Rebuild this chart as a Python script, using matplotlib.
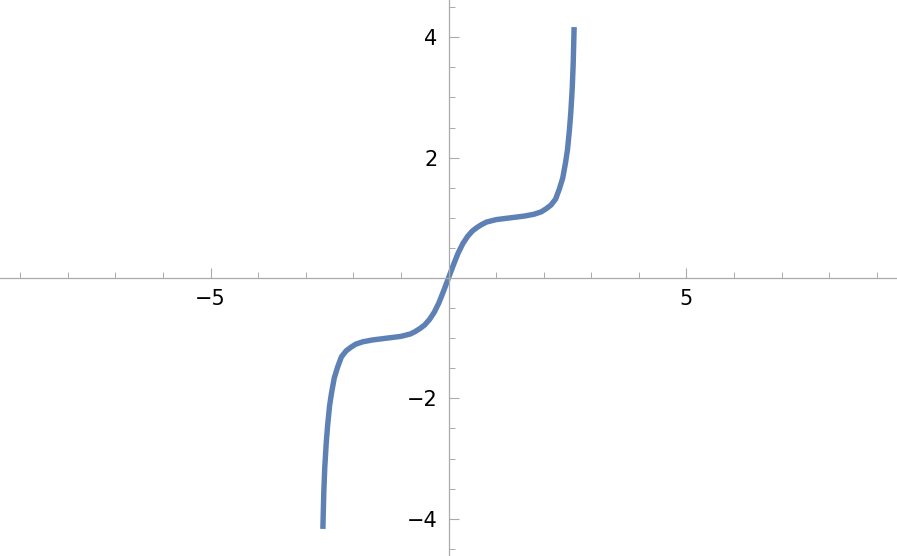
import numpy as np
import matplotlib
matplotlib.use("Agg")
import matplotlib.pyplot as plt
from matplotlib.ticker import FixedLocator, FixedFormatter

# Curve values (left branch, then right branch)
x_neg = [-2.64, -2.62, -2.60, -2.57, -2.54, -2.50, -2.46, -2.40, -2.33, -2.25, -2.15,
         -2.05, -1.95, -1.80, -1.60, -1.40, -1.20, -1.00, -0.90, -0.80, -0.70, -0.60,
         -0.50, -0.40, -0.30, -0.20, -0.10]
y_neg = [-4.17, -3.55, -3.15, -2.75, -2.45, -2.13, -1.92, -1.66, -1.48, -1.31, -1.21,
         -1.15, -1.10, -1.06, -1.03, -1.01, -0.99, -0.97, -0.95, -0.93, -0.89, -0.84,
         -0.78, -0.69, -0.57, -0.41, -0.21]
x_pos = [0.0, 0.10, 0.20, 0.30, 0.40, 0.50, 0.60, 0.70, 0.80, 0.90, 1.00, 1.20, 1.40,
         1.60, 1.80, 1.95, 2.05, 2.15, 2.25, 2.33, 2.40, 2.46, 2.50, 2.54, 2.57, 2.60,
         2.62, 2.64]
y_pos = [0.0, 0.21, 0.41, 0.57, 0.69, 0.78, 0.84, 0.89, 0.93, 0.95, 0.97, 0.99, 1.01,
         1.03, 1.06, 1.10, 1.15, 1.21, 1.31, 1.48, 1.66, 1.92, 2.13, 2.45, 2.75, 3.15,
         3.55, 4.17]

x_major = [-5, 5]
x_major_labels = ["\u22125", "5"]
x_minor = [-9, -8, -7, -6, -4, -3, -2, -1, 1, 2, 3, 4, 6, 7, 8, 9]
y_major = [-4, -2, 2, 4]
y_major_labels = ["\u22124", "\u22122", "2", "4"]
y_minor = [-4.5, -3.5, -3, -2.5, -1.5, -1, -0.5, 0.5, 1, 1.5, 2.5, 3, 3.5, 4.5]

xs = x_neg + x_pos
ys = y_neg + y_pos

fig = plt.figure(figsize=(8.97, 5.56), dpi=100)
ax = fig.add_axes([0, 0, 1, 1])
ax.set_xlim(-3 * np.pi, 3 * np.pi)
ax.set_ylim(-4.62, 4.62)

ax.plot(xs, ys, color="#5E81B5", lw=3.9, solid_capstyle="butt", solid_joinstyle="round")

axis_col = "#aaaaaa"
for s in ["top", "right"]:
    ax.spines[s].set_visible(False)
ax.spines["left"].set_position(("data", 0))
ax.spines["bottom"].set_position(("data", 0))
for s in ["left", "bottom"]:
    ax.spines[s].set_color(axis_col)
    ax.spines[s].set_linewidth(0.9)

ax.xaxis.set_major_locator(FixedLocator(x_major))
ax.xaxis.set_major_formatter(FixedFormatter(x_major_labels))
ax.xaxis.set_minor_locator(FixedLocator(x_minor))
ax.yaxis.set_major_locator(FixedLocator(y_major))
ax.yaxis.set_major_formatter(FixedFormatter(y_major_labels))
ax.yaxis.set_minor_locator(FixedLocator(y_minor))

ax.tick_params(axis="both", which="major", direction="in", length=7.2, width=0.8,
               color=axis_col, labelsize=15, labelcolor="black", pad=8)
ax.tick_params(axis="both", which="minor", direction="in", length=4.0, width=0.7,
               color=axis_col)
ax.patch.set_alpha(0)

fig.savefig("out.png", dpi=100)
